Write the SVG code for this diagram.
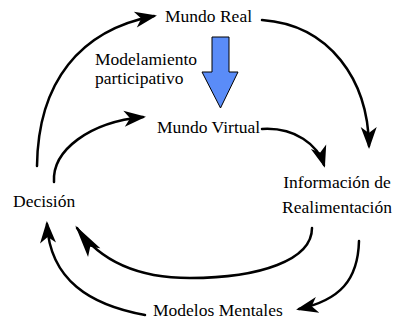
<svg xmlns="http://www.w3.org/2000/svg" width="394" height="321" viewBox="0 0 394 321">
  <style>
    .lbl { font-family: "Liberation Serif", "Times New Roman", serif; font-size: 17.5px; fill: #000; }
    .con { fill: none; stroke: #000; stroke-width: 2.5; stroke-linecap: round; stroke-linejoin: round; }
  </style>
  <defs>
    <marker id="ah" markerUnits="userSpaceOnUse" markerWidth="30" markerHeight="20" refX="0" refY="0" orient="auto" overflow="visible">
      <path d="M3,0 L-19,-8 L-13,0 L-19,8 Z" fill="#000"/>
    </marker>
    <marker id="ahl" markerUnits="userSpaceOnUse" markerWidth="40" markerHeight="20" refX="0" refY="0" orient="auto" overflow="visible">
      <path d="M3,0 L-30,-7.5 L-23,0 L-30,7.5 Z" fill="#000"/>
    </marker>
  </defs>
  <rect width="394" height="321" fill="#fff"/>

  <g id="connectors">
    <path class="con" d="M37,166 C38,82 80,30 154,16" marker-end="url(#ah)"/>
    <path class="con" d="M54,182 C52,150 90,122 143,117" marker-end="url(#ah)"/>
    <path class="con" d="M262,20 C330,25 368,80 369,146" marker-end="url(#ah)"/>
    <path class="con" d="M262,129 C295,127 318,145 324,165" marker-end="url(#ah)"/>
    <path class="con" d="M312,228 C312,260 260,278 190,278 C150,278 105,268 77,228" marker-end="url(#ahl)"/>
    <path class="con" d="M145,315 C90,305 50,280 47,224" marker-end="url(#ah)"/>
    <path class="con" d="M359,241 C358,280 340,300 299,309" marker-end="url(#ah)"/>
  </g>

  <g id="modelamiento">
    <polygon points="212,37 229,37 229,72 238,72 220.5,108 202,72 212,72" fill="#5a8cf8" stroke="#000" stroke-width="1"/>
    <text class="lbl"><tspan x="95" y="64.5">Modelamiento</tspan><tspan x="95" y="84.2">participativo</tspan></text>
  </g>

  <g id="mundo-real">
    <text class="lbl" x="165" y="22">Mundo Real</text>
  </g>
  <g id="mundo-virtual">
    <text class="lbl" x="157" y="133">Mundo Virtual</text>
  </g>
  <g id="decision">
    <text class="lbl" x="13" y="206.5">Decisión</text>
  </g>
  <g id="informacion">
    <text class="lbl" text-anchor="middle"><tspan x="337" y="188">Información de</tspan><tspan x="337" y="212.5">Realimentación</tspan></text>
  </g>
  <g id="modelos-mentales">
    <text class="lbl" x="153" y="316">Modelos Mentales</text>
  </g>
</svg>
